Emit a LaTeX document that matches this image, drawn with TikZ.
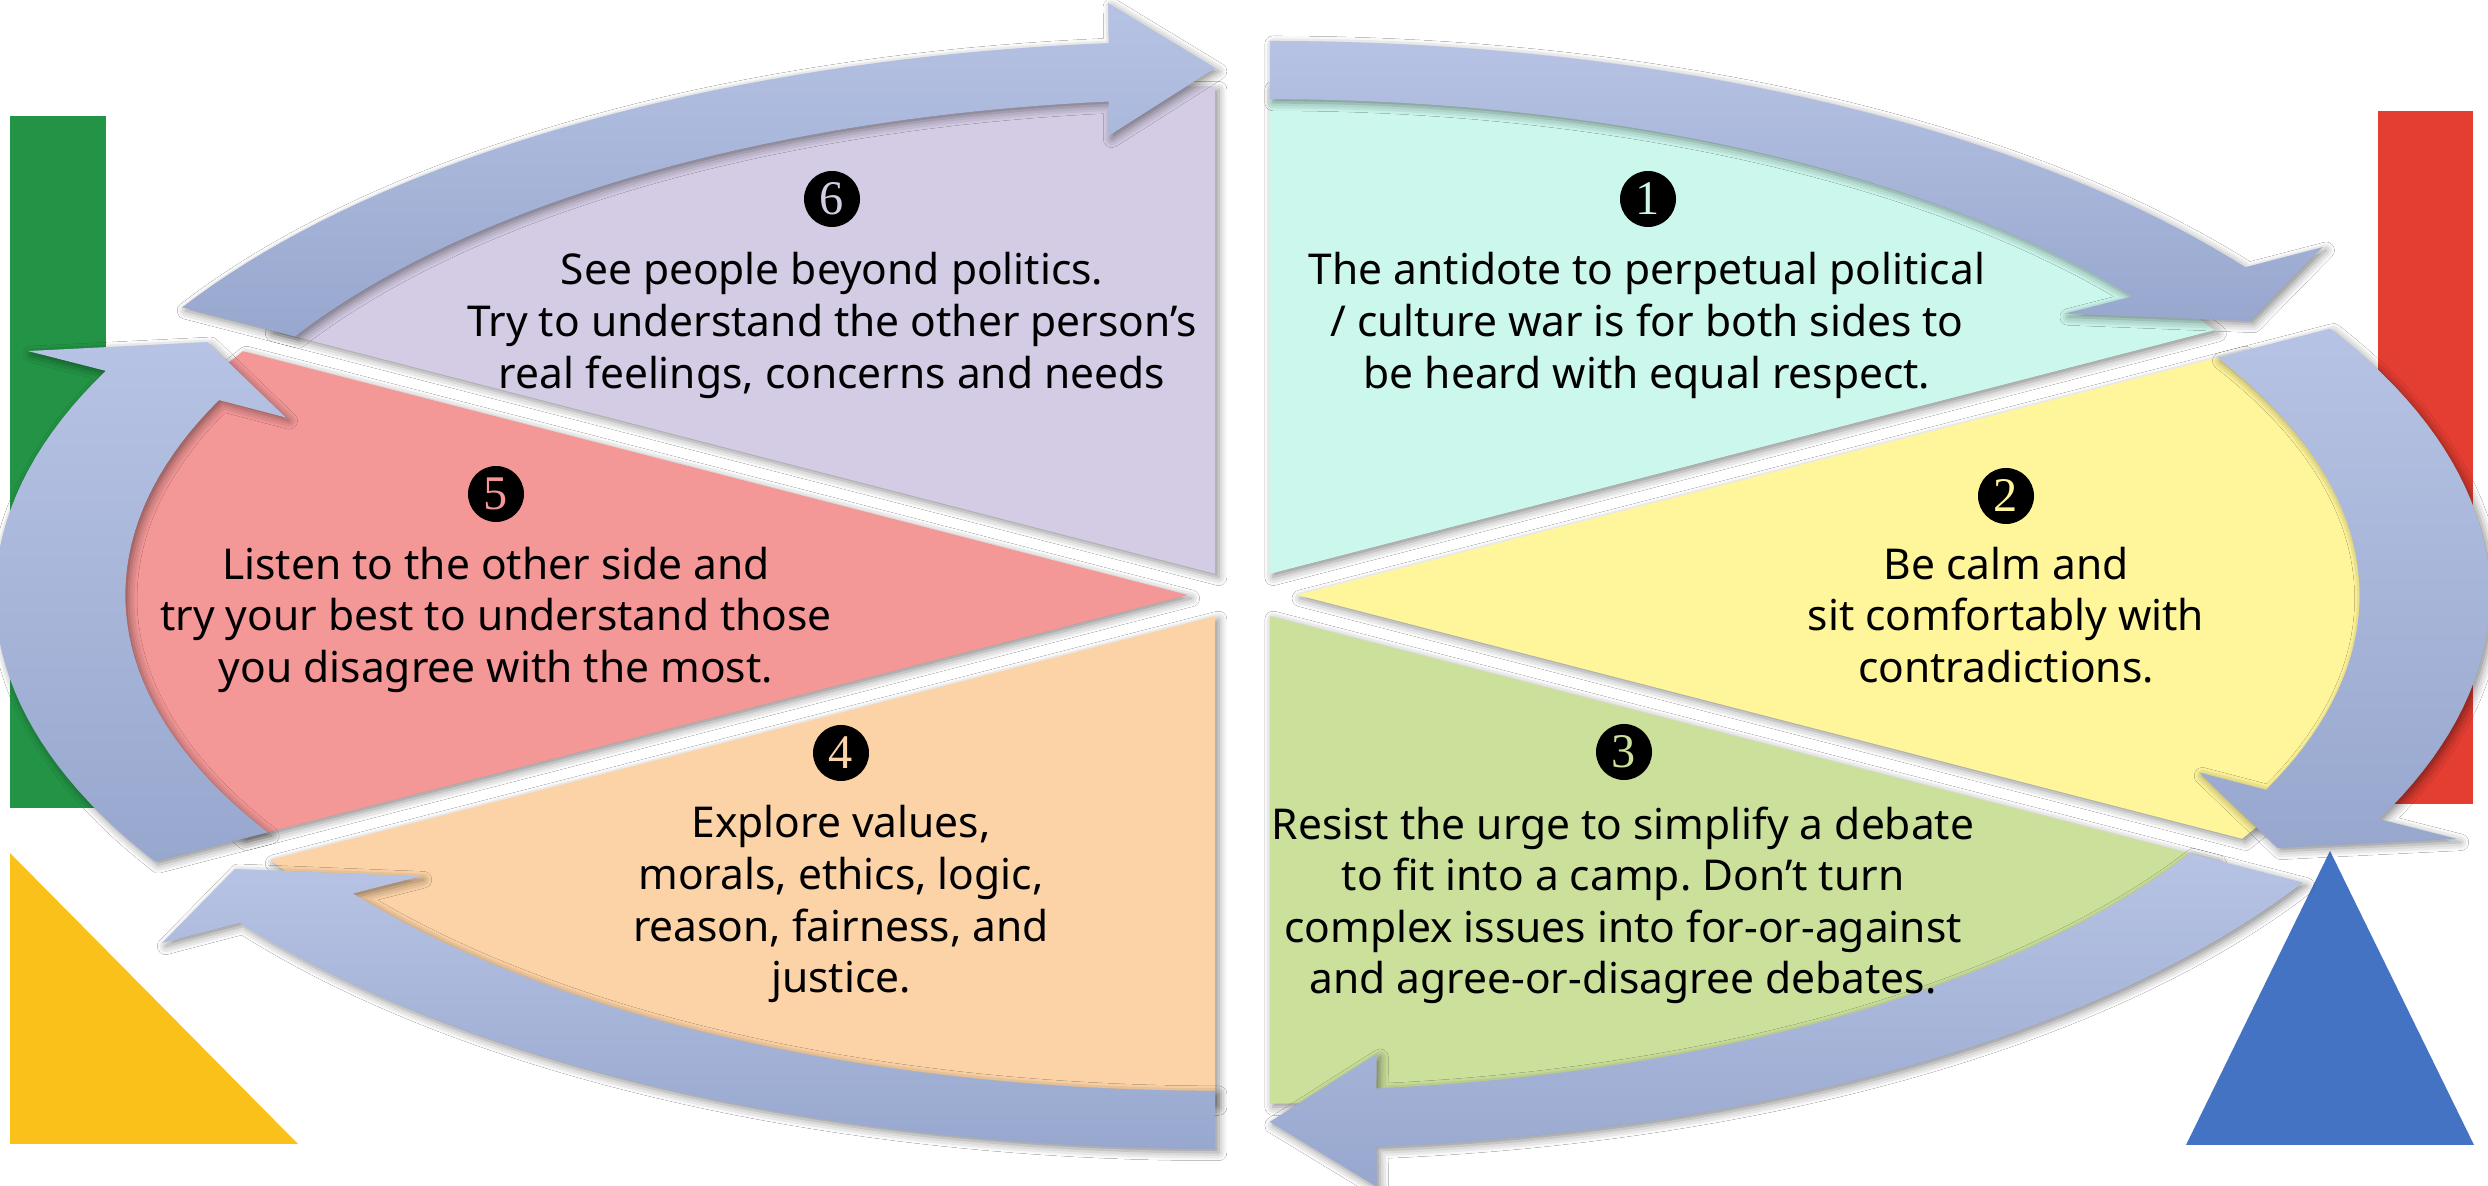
\documentclass[tikz,border=0pt]{standalone}
\usepackage{fontspec}
\setmainfont{Noto Sans}
\newfontfamily\numfont{Liberation Serif}
\usetikzlibrary{shadows.blur}
\frenchspacing
\definecolor{wCyan}{RGB}{204,247,236}
\definecolor{wYellow}{RGB}{255,245,154}
\definecolor{wGreen}{RGB}{203,224,155}
\definecolor{wPeach}{RGB}{252,211,166}
\definecolor{wPink}{RGB}{244,151,151}
\definecolor{wLav}{RGB}{212,204,228}
\definecolor{arTop}{RGB}{182,195,228}
\definecolor{arBot}{RGB}{152,167,206}
\definecolor{barGreen}{RGB}{35,148,69}
\definecolor{barRed}{RGB}{228,61,49}
\definecolor{triYellow}{RGB}{251,193,27}
\definecolor{triBlue}{RGB}{68,115,196}
\tikzset{
  pieshadow/.style={blur shadow={shadow xshift=1pt, shadow yshift=-1pt, shadow blur radius=2.5pt, shadow opacity=45}},
  cycarrow/.style={top color=arTop, bottom color=arBot, pieshadow},
  numcirc/.style={circle, fill=black, minimum size=16.8pt, inner sep=0pt, font=\numfont\fontsize{14.5}{14.5}\selectfont},
  txt/.style={anchor=base, inner sep=0pt, text=black, font=\fontsize{12.75}{15}\selectfont},
}
\newcommand\pieWedge[4]{%
  \begin{scope}[shift={(#1:0.044)}]
    \fill[#4, pieshadow] (0,0) -- plot[domain=#2:#3, samples=40] (\x:0.88) -- cycle;
  \end{scope}}
\newcommand\cycArrow[3]{%
  \pgfmathsetmacro\nO{#2+5.13}\pgfmathsetmacro\nI{#2+5.76}%
  \pgfmathsetmacro\bO{#2+4.79}\pgfmathsetmacro\bI{#2+6.23}%
  \begin{scope}[shift={(#1:0.044)}]
    \path[cycarrow] (#3:0.962) -- plot[domain=#3:\nO, samples=40] (\x:0.962)
      -- (\bO:1.034) -- (#2:0.913) -- (\bI:0.795) -- (\nI:0.857)
      -- plot[domain=\nI:#3, samples=40] (\x:0.857) -- cycle;
  \end{scope}}
\begin{document}
\begin{tikzpicture}[x=0.3pt, y=-0.3pt]
\useasboundingbox (0,0) rectangle (2488,1186);
\fill[white] (0,0) rectangle (2488,1186);
% side shapes
\fill[barGreen] (10,116) rectangle (106,808);
\fill[barRed] (2378,111) rectangle (2473,804);
\fill[triYellow] (10,853) -- (10,1144) -- (298,1144) -- cycle;
\fill[triBlue] (2186,1145) -- (2474,1145) -- (2330,851) -- cycle;
% pie
\begin{scope}[shift={(1242.5,595)}, x=372pt, y=166.2pt]
  \pieWedge{60}{30}{90}{wCyan}
  \pieWedge{0}{-30}{30}{wYellow}
  \pieWedge{-60}{-90}{-30}{wGreen}
  \pieWedge{-120}{-150}{-90}{wPeach}
  \pieWedge{180}{150}{210}{wPink}
  \pieWedge{120}{90}{150}{wLav}
  \cycArrow{60}{30}{90}
  \cycArrow{0}{-30}{30}
  \cycArrow{-60}{-90}{-30}
  \cycArrow{-120}{-150}{-90}
  \cycArrow{180}{150}{210}
  \cycArrow{120}{90}{150}
\end{scope}
% texts
\node[numcirc, text=wCyan] (n1) at (1648,199) {1};
\node[txt] (t1a) at (1647,285) {The antidote to perpetual political};
\node[txt] (t1b) at (1647,337) {/ culture war is for both sides to};
\node[txt] (t1c) at (1647,389) {be heard with equal respect.};
\node[numcirc, text=wYellow] (n2) at (2006,496) {2};
\node[txt] (t2a) at (2006,580) {Be calm and};
\node[txt] (t2b) at (2006,631) {sit comfortably with};
\node[txt] (t2c) at (2006,683) {contradictions.};
\node[numcirc, text=wGreen] (n3) at (1624,752) {3};
\node[txt] (t3a) at (1623,840) {Resist the urge to simplify a debate};
\node[txt] (t3b) at (1623,891) {to fit into a camp. Don’t turn};
\node[txt] (t3c) at (1623,943) {complex issues into for-or-against};
\node[txt] (t3d) at (1623,994) {and agree-or-disagree debates.};
\node[numcirc, text=wPeach] (n4) at (841,753) {4};
\node[txt] (t4a) at (841,838) {Explore values,};
\node[txt] (t4b) at (841,890) {morals, ethics, logic,};
\node[txt] (t4c) at (841,942) {reason, fairness, and};
\node[txt] (t4d) at (841,993) {justice.};
\node[numcirc, text=wPink] (n5) at (496,494) {5};
\node[txt] (t5a) at (496,580) {Listen to the other side and};
\node[txt] (t5b) at (496,631) {try your best to understand those};
\node[txt] (t5c) at (496,683) {you disagree with the most.};
\node[numcirc, text=wLav] (n6) at (832,199) {6};
\node[txt] (t6a) at (832,285) {See people beyond politics.};
\node[txt] (t6b) at (832,337) {Try to understand the other person’s};
\node[txt] (t6c) at (832,389) {real feelings, concerns and needs};
\end{tikzpicture}
\end{document}
